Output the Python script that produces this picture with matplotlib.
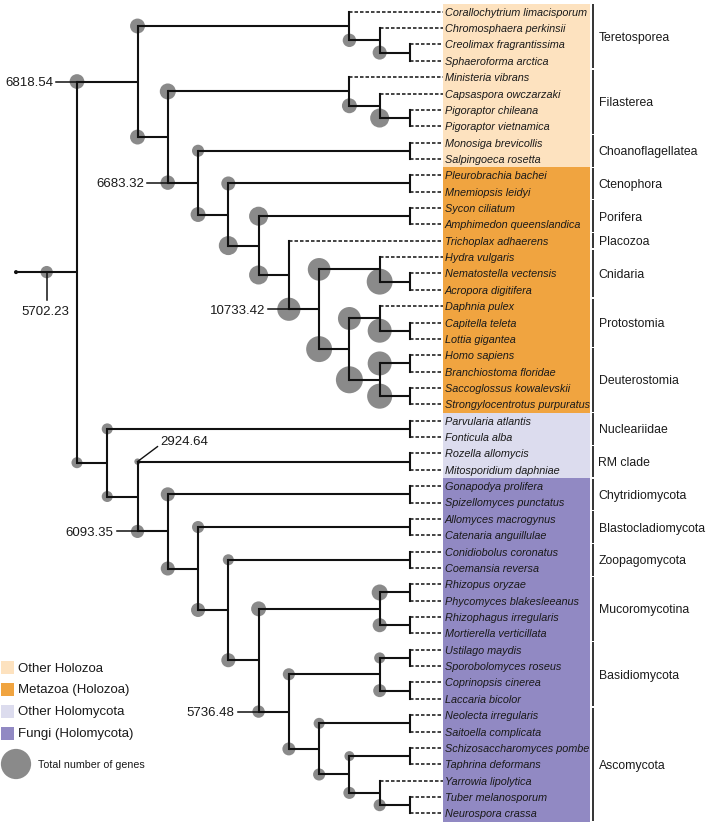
import matplotlib
matplotlib.use("Agg")
import matplotlib.pyplot as plt
from matplotlib.patches import Circle, Rectangle

plt.rcParams['font.family'] = ['Liberation Sans', 'DejaVu Sans']

# ---------------- data ----------------
leaves = [
    "Corallochytrium limacisporum", "Chromosphaera perkinsii", "Creolimax fragrantissima",
    "Sphaeroforma arctica", "Ministeria vibrans", "Capsaspora owczarzaki",
    "Pigoraptor chileana", "Pigoraptor vietnamica", "Monosiga brevicollis",
    "Salpingoeca rosetta", "Pleurobrachia bachei", "Mnemiopsis leidyi", "Sycon ciliatum",
    "Amphimedon queenslandica", "Trichoplax adhaerens", "Hydra vulgaris",
    "Nematostella vectensis", "Acropora digitifera", "Daphnia pulex", "Capitella teleta",
    "Lottia gigantea", "Homo sapiens", "Branchiostoma floridae", "Saccoglossus kowalevskii",
    "Strongylocentrotus purpuratus", "Parvularia atlantis", "Fonticula alba",
    "Rozella allomycis", "Mitosporidium daphniae", "Gonapodya prolifera",
    "Spizellomyces punctatus", "Allomyces macrogynus", "Catenaria anguillulae",
    "Conidiobolus coronatus", "Coemansia reversa", "Rhizopus oryzae",
    "Phycomyces blakesleeanus", "Rhizophagus irregularis", "Mortierella verticillata",
    "Ustilago maydis", "Sporobolomyces roseus", "Coprinopsis cinerea", "Laccaria bicolor",
    "Neolecta irregularis", "Saitoella complicata", "Schizosaccharomyces pombe",
    "Taphrina deformans", "Yarrowia lipolytica", "Tuber melanosporum", "Neurospora crassa",
]

clade_names = ["Teretosporea", "Filasterea", "Choanoflagellatea", "Ctenophora", "Porifera",
               "Placozoa", "Cnidaria", "Protostomia", "Deuterostomia", "Nucleariidae",
               "RM clade", "Chytridiomycota", "Blastocladiomycota", "Zoopagomycota",
               "Mucoromycotina", "Basidiomycota", "Ascomycota"]
clade_first = [0, 4, 8, 10, 12, 14, 15, 18, 21, 25, 27, 29, 31, 33, 35, 39, 43]
clade_last = [3, 7, 9, 11, 13, 14, 17, 20, 24, 26, 28, 30, 32, 34, 38, 42, 49]

band_labels = ["Other Holozoa", "Metazoa (Holozoa)", "Other Holomycota", "Fungi (Holomycota)"]
band_colors = ["#fde2bf", "#f0a440", "#dcdcee", "#9189c3"]
band_first = [0, 10, 25, 29]
band_last = [9, 24, 28, 49]


def N(level, genes, *kids, lab=None):
    return {"level": level, "genes": genes, "kids": kids, "lab": lab}


# tree: level = depth position of the node's vertical line, genes = total number of genes
tree = N(1, 5702.23,
    N(3, 6818.54,
        N(10, 6900, 0, N(11, 6200, 1, N(12, 6500, 2, 3))),
        N(4, 6900,
            N(10, 7400, 4, N(11, 6900, 5, N(12, 8800, 6, 7))),
            N(5, 6683.32,
                N(12, 5600, 8, 9),
                N(6, 6900,
                    N(12, 6500, 10, 11),
                    N(7, 8800,
                        N(12, 8800, 12, 13),
                        N(8, 8800,
                            14,
                            N(9, 10733.42,
                                N(11, 10500, 15, N(12, 12000, 16, 17)),
                                N(10, 12000,
                                    N(11, 10600, 18, N(12, 11100, 19, 20)),
                                    N(11, 12500, N(12, 11100, 21, 22), N(12, 11600, 23, 24))),
                                lab="left"),
                        ),
                    ),
                ),
                lab="left"),
        ),
        lab="left"),
    N(2, 5100,
        N(12, 5100, 25, 26),
        N(3, 5100,
            N(12, 2924.64, 27, 28, lab="diag"),
            N(4, 6093.35,
                N(12, 6500, 29, 30),
                N(5, 6500,
                    N(12, 5600, 31, 32),
                    N(6, 6500,
                        N(12, 5100, 33, 34),
                        N(7, 6500,
                            N(11, 6900, N(12, 7400, 35, 36), N(12, 6500, 37, 38)),
                            N(8, 5736.48,
                                N(11, 5600, N(12, 5100, 39, 40), N(12, 6000, 41, 42)),
                                N(9, 6000,
                                    N(12, 5100, 43, 44),
                                    N(10, 5600,
                                        N(12, 4600, 45, 46),
                                        N(11, 5600, 47, N(12, 5600, 48, 49)))),
                                lab="left"),
                        ),
                    ),
                ),
                lab="left"),
        ),
    ),
    lab="below")

legend_gene_value = 14000

# ---------------- layout ----------------
W, H = 706, 824
LEAF_Y0, LEAF_DY = 11.7, 16.36
X0, DX = 46.7, 30.27
ROOT_X = 16
LEAF_END = 443
BAND_RIGHT = 590
BRACKET_X = 593
R_PER_GENE = 0.00108
LINE = "#111111"
NODE_COLOR = "#8a8a8a"
TXT = "#1a1a1a"


def lx(level):
    return X0 + DX * level


def ly(i):
    return LEAF_Y0 + LEAF_DY * i


def node_y(n):
    if isinstance(n, int):
        return ly(n)
    ys = [node_y(k) for k in n["kids"]]
    return (min(ys) + max(ys)) / 2


fig = plt.figure(figsize=(W / 100, H / 100), dpi=100)
ax = fig.add_axes([0, 0, 1, 1])
ax.set_xlim(0, W)
ax.set_ylim(H, 0)
ax.axis("off")

# colour bands
for lab, c, a, b in zip(band_labels, band_colors, band_first, band_last):
    y0 = ly(a) - LEAF_DY / 2
    y1 = ly(b) + LEAF_DY / 2
    ax.add_patch(Rectangle((LEAF_END, y0), BAND_RIGHT - LEAF_END, y1 - y0,
                           facecolor=c, edgecolor="none", zorder=0))

# leaf names
for i, name in enumerate(leaves):
    ax.text(LEAF_END + 2, ly(i), name, fontsize=7.8, style="italic", color=TXT,
            ha="left", va="center_baseline", zorder=5)

# clade brackets
for name, a, b in zip(clade_names, clade_first, clade_last):
    y0 = ly(a) - 7.6
    y1 = ly(b) + 7.6
    ax.plot([BRACKET_X, BRACKET_X], [y0, y1], color=LINE, lw=1.2, solid_capstyle="butt")
    ax.text(BRACKET_X + 5.5, (ly(a) + ly(b)) / 2, name, fontsize=8.8, color=TXT,
            ha="left", va="center_baseline")

LW = 1.5


def add_label(n, cx, cy):
    txt = "%.2f" % n["genes"]
    if n["lab"] == "left":
        ax.plot([cx - 21, cx], [cy, cy], color=LINE, lw=1.1, zorder=4)
        ax.text(cx - 24, cy, txt, fontsize=9.5, color=TXT, ha="right", va="center_baseline")
    elif n["lab"] == "below":
        ax.plot([cx, cx], [cy, cy + 28], color=LINE, lw=1.1, zorder=4)
        ax.text(cx - 1, cy + 38, txt, fontsize=9.5, color=TXT, ha="center", va="center_baseline")
    elif n["lab"] == "diag":
        ax.plot([cx, cx + 20], [cy, cy - 15], color=LINE, lw=1.0, zorder=4)
        ax.text(cx + 23, cy - 21, txt, fontsize=9.5, color=TXT, ha="left", va="center_baseline")


def draw(n, px, start_x=None):
    x = lx(n["level"])
    y = node_y(n)
    ax.add_patch(Circle((px, y), n["genes"] * R_PER_GENE, facecolor=NODE_COLOR,
                        edgecolor="none", zorder=2))
    ax.plot([px if start_x is None else start_x, x], [y, y], color=LINE, lw=LW, zorder=3,
            solid_capstyle="butt")
    kys = [node_y(k) for k in n["kids"]]
    ax.plot([x, x], [min(kys), max(kys)], color=LINE, lw=LW, zorder=3,
            solid_capstyle="projecting")
    for k in n["kids"]:
        if isinstance(k, int):
            ax.plot([x, LEAF_END], [ly(k), ly(k)], color=LINE, lw=1.1, zorder=3,
                    dashes=(2.3, 1.3))
        else:
            draw(k, x)
    if n["lab"]:
        add_label(n, px, y)


draw(tree, lx(0), start_x=ROOT_X)
ax.add_patch(Circle((ROOT_X, node_y(tree)), 2.0, facecolor=LINE, edgecolor="none", zorder=4))

# legend
leg_y = [667, 689, 711, 733]
for lab, c, yy in zip(band_labels, band_colors, leg_y):
    ax.add_patch(Rectangle((1, yy - 6.5), 13, 13, facecolor=c, edgecolor="none"))
    ax.text(18, yy, lab, fontsize=9.5, color=TXT, ha="left", va="center_baseline")
ax.add_patch(Circle((16, 764), legend_gene_value * R_PER_GENE, facecolor=NODE_COLOR,
                    edgecolor="none"))
ax.text(38, 764, "Total number of genes", fontsize=7.7, color=TXT, ha="left",
        va="center_baseline")

fig.savefig("out.png", dpi=100)
